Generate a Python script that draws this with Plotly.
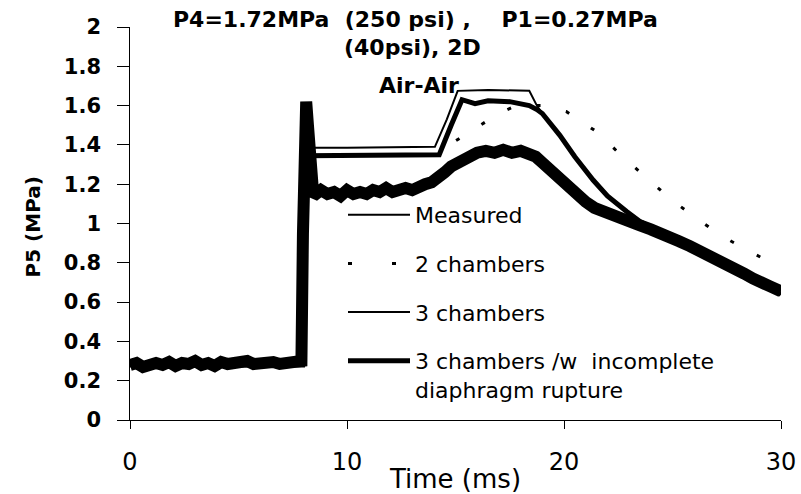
import plotly.graph_objects as go

# ---------------- data ----------------
meas_t = [0, 0.3, 0.6, 0.9, 1.2, 1.5, 1.8, 2.1, 2.4, 2.7, 3.0, 3.3, 3.6, 3.9, 4.2, 4.5, 4.8,
          5.1, 5.4, 5.7, 6.0, 6.3, 6.6, 6.9, 7.2, 7.5, 7.8, 7.9, 7.97, 8.05, 8.12, 8.2, 8.3,
          8.45, 8.8, 9.1, 9.4, 9.7, 10.0, 10.3, 10.6, 10.9, 11.2, 11.5, 11.8, 12.1, 12.4, 12.7,
          13.0, 13.3, 13.6, 13.9, 14.2, 14.5, 14.8, 15.1, 15.4, 15.7, 16.0, 16.4, 16.8, 17.2,
          17.6, 18.0, 18.4, 18.7, 19.0, 19.4, 19.8, 20.2, 20.6, 21.0, 21.4, 21.8, 22.2, 22.6,
          23.0, 23.5, 24.0, 24.4, 24.8, 25.3, 25.8, 26.3, 26.8, 27.3, 27.8, 28.3, 28.7, 29.0,
          29.5, 30.0]
meas_p = [0.28, 0.29, 0.27, 0.285, 0.29, 0.28, 0.295, 0.275, 0.29, 0.285, 0.30, 0.28, 0.29,
          0.275, 0.295, 0.285, 0.29, 0.28, 0.30, 0.285, 0.29, 0.28, 0.295, 0.285, 0.29, 0.28,
          0.30, 0.30, 0.95, 1.45, 1.62, 1.50, 1.25,
          1.14, 1.17, 1.15, 1.16, 1.14, 1.17, 1.15, 1.16, 1.15, 1.17, 1.16, 1.18, 1.16, 1.17,
          1.18, 1.17, 1.19, 1.20, 1.21, 1.23, 1.26, 1.29, 1.31, 1.33, 1.35, 1.36, 1.37, 1.36,
          1.375, 1.36, 1.37, 1.355, 1.34, 1.31, 1.27, 1.22, 1.17, 1.14, 1.11, 1.08, 1.06, 1.04,
          1.03, 1.01, 0.99, 0.97, 0.955, 0.94, 0.91, 0.885, 0.86, 0.83, 0.80, 0.775, 0.745,
          0.72, 0.70, 0.68, 0.655]

two_t = [0, 7.95, 8.05, 10.0, 14.5, 15.0, 16.0, 17.0, 17.8, 19.0, 20.1, 21.6, 22.6, 23.6,
         24.65, 25.2, 27.2, 29.2, 29.7, 30.0]
two_p = [0.28, 0.28, 1.345, 1.345, 1.35, 1.42, 1.49, 1.56, 1.60, 1.60, 1.57, 1.46, 1.35, 1.25,
         1.15, 1.10, 0.94, 0.82, 0.81, 0.80]

three_t = [0, 7.95, 8.08, 10.0, 14.05, 14.6, 15.1, 16.5, 18.4, 18.75, 19.0, 19.8, 20.5,
           21.35, 22.0, 22.9, 23.5, 24.4, 25.3, 26.3, 27.5, 29.0, 30.0]
three_p = [0.28, 0.28, 1.385, 1.385, 1.39, 1.53, 1.675, 1.68, 1.675, 1.60, 1.56, 1.45, 1.34,
           1.22, 1.14, 1.06, 1.01, 0.96, 0.91, 0.86, 0.79, 0.70, 0.64]

inc_t = [0, 7.95, 8.08, 10.0, 14.25, 14.8, 15.3, 15.9, 16.5, 17.5, 18.4, 18.75, 19.0, 19.8,
         20.5, 21.35, 22.0, 22.9, 23.5, 24.4, 25.3, 26.3, 27.5, 29.0, 30.0]
inc_p = [0.28, 0.28, 1.345, 1.345, 1.35, 1.50, 1.63, 1.61, 1.625, 1.62, 1.60, 1.58, 1.56,
         1.45, 1.34, 1.22, 1.14, 1.06, 1.01, 0.96, 0.91, 0.86, 0.79, 0.70, 0.64]

legend_names = ["Measured", "2 chambers", "3 chambers",
                "3 chambers /w  incomplete<br>diaphragm rupture"]

x_ticks = [0, 10, 20, 30]
y_ticks = [0, 0.2, 0.4, 0.6, 0.8, 1.0, 1.2, 1.4, 1.6, 1.8, 2.0]

FONT = "'DejaVu Sans', Arial, sans-serif"

fig = go.Figure()

# data traces
fig.add_trace(go.Scatter(x=two_t, y=two_p, mode="lines", showlegend=False,
                         line=dict(color="black", width=3, dash="4px,26px")))
fig.add_trace(go.Scatter(x=three_t, y=three_p, mode="lines", showlegend=False,
                         line=dict(color="black", width=2)))
fig.add_trace(go.Scatter(x=inc_t, y=inc_p, mode="lines", showlegend=False,
                         line=dict(color="black", width=5)))
fig.add_trace(go.Scatter(x=meas_t, y=meas_p, mode="lines", showlegend=False,
                         line=dict(color="black", width=12)))
# carrier for the label axis
fig.add_trace(go.Scatter(x=[None], y=[None], yaxis="y2", showlegend=False, hoverinfo="skip"))

# legend entries
leg_styles = [dict(color="black", width=2),
              dict(color="black", width=3, dash="4px,40px"),
              dict(color="black", width=2),
              dict(color="black", width=5)]
for i, (nm, st) in enumerate(zip(legend_names, leg_styles)):
    fig.add_trace(go.Scatter(x=[None], y=[None], mode="lines", name=nm, line=st,
                             legendgroup=f"g{i}"))

ML = 101
PW = 801 - ML - 20
D0 = (130 - ML) / PW


def px(v):
    return (v - ML) / PW


fig.update_layout(
    width=801, height=494,
    margin=dict(l=ML, r=20, t=27, b=74),
    paper_bgcolor="white", plot_bgcolor="white",
    font=dict(family=FONT, color="black"),
    showlegend=True,
    legend=dict(x=px(343), y=0.575, xanchor="left", yanchor="top",
                bgcolor="rgba(0,0,0,0)", font=dict(size=22, family=FONT),
                tracegroupgap=17, valign="top", itemwidth=62),
    xaxis=dict(domain=[D0, 1], range=[0, 30], tickvals=x_ticks, showgrid=False,
               zeroline=False, showline=True, linecolor="black", linewidth=1,
               automargin=False, ticks="outside", ticklen=8, tickcolor="black",
               tickwidth=1, tickfont=dict(size=24, family=FONT), ticklabelstandoff=12,
               title=dict(text="Time (ms)", font=dict(size=26, family=FONT), standoff=2)),
    yaxis=dict(range=[0, 2], tickvals=y_ticks, showgrid=False, zeroline=False,
               automargin=False, showline=True, linecolor="black", linewidth=1,
               ticks="outside", ticklen=12, tickcolor="black", tickwidth=1,
               showticklabels=False),
    yaxis2=dict(overlaying="y", anchor="free", position=0, side="left",
                range=[0, 2], tickvals=y_ticks, showgrid=False, zeroline=False,
                automargin=False, showline=False, ticks="",
                tickfont=dict(size=21, family=FONT, weight="bold")),
)

# y-axis title
fig.add_annotation(text="P5 (MPa)", xref="paper", yref="paper", x=px(33), y=0.49,
                   xanchor="center", yanchor="middle", textangle=-90, showarrow=False,
                   font=dict(size=20, family=FONT, weight="bold"))

TF = dict(size=22, family=FONT, weight="bold")
fig.add_annotation(text="P4=1.72MPa  (250 psi) ,    P1=0.27MPa", xref="paper", yref="paper",
                   x=px(415), y=1.018, xanchor="center", yanchor="middle", showarrow=False,
                   font=TF)
fig.add_annotation(text="(40psi), 2D", xref="paper", yref="paper",
                   x=px(412), y=0.947, xanchor="center", yanchor="middle", showarrow=False,
                   font=TF)
fig.add_annotation(text="Air-Air", xref="paper", yref="paper",
                   x=px(419), y=0.852, xanchor="center", yanchor="middle", showarrow=False,
                   font=TF)

fig.write_html("out.html")
